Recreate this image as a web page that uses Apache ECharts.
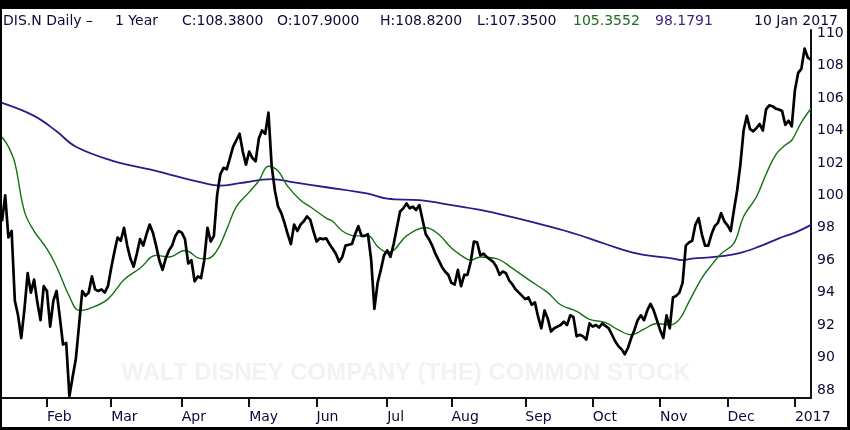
<!DOCTYPE html>
<html>
<head>
<meta charset="utf-8">
<script src="https://cdn.jsdelivr.net/npm/echarts@6/dist/echarts.min.js"></script>
<style>
html,body{margin:0;padding:0;background:#fff;}
#chart{width:850px;height:430px;}
</style>
</head>
<body>
<div id="chart"></div>
<script>
// Daily closes, one per trading day (11 Jan 2016 .. 10 Jan 2017)
const closes = [
  98.4, 100.0, 97.4, 97.8, 93.5, 92.6, 91.2, 93.0, 95.2, 94.0,
  94.8, 93.4, 92.3, 94.4, 94.1, 91.9, 93.5, 94.1, 92.5, 90.8,
  90.9, 87.6, 88.8, 89.9, 92.0, 94.1, 93.8, 94.0, 95.0, 94.2,
  94.1, 94.2, 94.0, 94.4, 95.5, 96.5, 97.4, 97.2, 98.0, 96.9,
  96.1, 95.6, 96.4, 97.3, 96.9, 97.6, 98.2, 97.7, 96.9, 96.0,
  95.4, 96.1, 96.6, 96.9, 97.5, 97.8, 97.7, 97.3, 95.8, 96.0,
  94.7, 95.0, 94.9, 96.0, 98.0, 97.15, 97.5, 100.0, 101.3, 101.7,
  101.6, 102.3, 103.0, 103.4, 103.8, 102.7, 101.9, 102.7, 102.3, 102.1,
  103.5, 104.0, 103.8, 105.1, 101.8, 100.3, 99.3, 98.9, 98.3, 97.6,
  97.0, 98.2, 97.8, 98.2, 98.4, 98.7, 98.5, 97.8, 97.15, 97.35,
  97.3, 97.35, 97.0, 96.7, 96.4, 95.9, 96.2, 96.9, 96.95, 97.0,
  97.6, 98.1, 97.5, 97.5, 97.6, 96.0, 93.0, 94.6, 95.4, 96.3,
  96.6, 96.2, 97.0, 98.0, 99.0, 99.2, 99.5, 99.2, 99.3, 99.1,
  99.4, 98.5, 97.6, 97.3, 96.9, 96.4, 96.0, 95.6, 95.3, 95.1,
  94.6, 94.5, 95.4, 94.4, 95.1, 95.1, 95.9, 97.15, 97.1, 96.3,
  96.4, 96.2, 96.05, 95.9, 95.6, 95.1, 95.3, 95.2, 94.75, 94.5,
  94.2, 94.0, 93.8, 93.6, 93.7, 93.25, 93.4, 92.5, 91.8, 92.9,
  92.4, 91.6, 91.8, 91.9, 92.0, 92.2, 92.0, 92.6, 92.5, 91.3,
  91.4, 91.3, 91.1, 92.1, 91.9, 92.0, 91.85, 92.1, 91.95, 91.8,
  91.4, 91.0, 90.7, 90.5, 90.2, 90.6, 91.2, 91.7, 92.3, 92.6,
  92.3, 92.9, 93.3, 92.9, 92.3, 91.7, 91.2, 92.6, 91.8, 93.7,
  93.8, 94.0, 94.6, 96.9, 97.1, 97.2, 98.2, 98.6, 97.6, 96.9,
  96.9, 97.6, 98.1, 98.3, 98.9, 98.4, 98.15, 97.8, 99.1, 100.3,
  101.9, 104.0, 104.9, 104.1, 103.95, 104.15, 104.4, 104.0, 105.3, 105.55,
  105.5, 105.35, 105.3, 105.2, 104.35, 104.6, 104.25, 106.5, 107.55, 107.8,
  109.05, 108.5, 108.38
];

// 50-day moving average (green), read at these trading-day indices
const ma50Index = [0, 2, 4, 7, 10, 14, 17, 21, 24, 27, 33, 38, 43, 48, 52, 57, 62, 64, 67, 70,
  73, 77, 80, 83, 86, 89, 93, 96, 101, 103, 106, 110, 114, 117, 120, 122, 126, 132, 136, 140,
  143, 146, 149, 154, 159, 164, 170, 174, 179, 183, 188, 192, 196, 200, 204, 208, 211, 214, 218, 221,
  224, 228, 231, 235, 238, 241, 244, 246, 249, 252];
const ma50Values = [103.6, 103.0, 102.0, 99.0, 97.8, 96.7, 95.6, 93.76, 92.9, 93.0, 93.6, 94.8, 95.5, 96.3, 96.2, 96.6, 96.1, 96.1, 96.6, 97.9,
  99.3, 100.2, 100.9, 101.8, 101.5, 100.55, 99.7, 99.3, 98.6, 98.4, 97.8, 97.5, 97.5, 96.85, 96.5, 96.6, 97.5, 98.0, 97.6, 96.75,
  96.3, 96.0, 96.2, 96.1, 95.5, 94.8, 94.0, 93.25, 92.85, 92.35, 92.15, 91.7, 91.4, 91.75, 92.1, 92.0, 92.35, 93.45, 94.9, 95.7,
  96.4, 97.05, 98.7, 99.9, 101.3, 102.5, 103.1, 103.4, 104.5, 105.36];

// 200-day moving average (indigo), read at these trading-day indices
const ma200Index = [0, 10, 17, 23, 35, 46, 60, 68, 74, 84, 91, 101, 114, 120, 130, 140, 149, 159, 170, 179,
  188, 198, 209, 212, 215, 222, 229, 236, 242, 247, 252];
const ma200Values = [105.7, 104.9, 103.95, 103.0, 102.1, 101.6, 100.9, 100.6, 100.75, 101.0, 100.8, 100.5, 100.1, 99.8, 99.7, 99.4, 99.1, 98.65, 98.1, 97.6,
  97.0, 96.4, 96.1, 96.0, 96.1, 96.2, 96.4, 96.85, 97.35, 97.7, 98.18];

// Month ticks: label and trading-day index of first session of the month
const tickLabels = ['Feb', 'Mar', 'Apr', 'May', 'Jun', 'Jul', 'Aug', 'Sep', 'Oct', 'Nov', 'Dec', '2017'];
const tickIndex = [14, 34, 56, 77, 98, 120, 140, 163, 184, 205, 226, 247];

const yTicks = [88, 90, 92, 94, 96, 98, 100, 102, 104, 106, 108, 110];

const headerMain = [
  {text: 'DIS.N Daily \u2013', x: 3},
  {text: '1 Year', x: 115},
  {text: 'C:108.3800', x: 182},
  {text: 'O:107.9000', x: 277},
  {text: 'H:108.8200', x: 380},
  {text: 'L:107.3500', x: 477}
];
const headerMa50 = '105.3552';
const headerMa200 = '98.1791';
const headerDate = '10 Jan 2017';
const watermark = 'WALT DISNEY COMPANY (THE) COMMON STOCK';

const categories = closes.map((_, i) => String(i));
const tickSet = new Set(tickIndex);
const labelOf = {};
tickIndex.forEach((idx, k) => { labelOf[idx] = tickLabels[k]; });

const FONT = '"DejaVu Sans", Verdana, sans-serif';
const NAVY = '#0b0b3b';

const graphics = [];
headerMain.forEach(h => graphics.push({
  type: 'text', x: h.x, y: 21, z: 50,
  style: {text: h.text, fill: NAVY, font: '14px ' + FONT, textVerticalAlign: 'middle'}
}));
graphics.push({type: 'text', x: 573, y: 21, z: 50,
  style: {text: headerMa50, fill: '#1e6b1e', font: '14px ' + FONT, textVerticalAlign: 'middle'}});
graphics.push({type: 'text', x: 655, y: 21, z: 50,
  style: {text: headerMa200, fill: '#3b1f7a', font: '14px ' + FONT, textVerticalAlign: 'middle'}});
graphics.push({type: 'text', x: 838, y: 21, z: 50,
  style: {text: headerDate, fill: NAVY, font: '14px ' + FONT, textAlign: 'right', textVerticalAlign: 'middle'}});
graphics.push({type: 'text', x: 406, y: 373, z: 0, silent: true,
  style: {text: watermark, fill: '#f2f2f2', font: 'bold 24px "Liberation Sans", sans-serif', textAlign: 'center', textVerticalAlign: 'middle'}});
// outer black frame
graphics.push({type: 'rect', z: 100, shape: {x: 0, y: 0, width: 850, height: 9}, style: {fill: '#000'}});
graphics.push({type: 'rect', z: 100, shape: {x: 0, y: 0, width: 2, height: 430}, style: {fill: '#000'}});
graphics.push({type: 'rect', z: 100, shape: {x: 847, y: 0, width: 3, height: 430}, style: {fill: '#000'}});
graphics.push({type: 'rect', z: 100, shape: {x: 0, y: 427, width: 850, height: 3}, style: {fill: '#000'}});

const chart = echarts.init(document.getElementById('chart'), null, {renderer: 'canvas'});
chart.setOption({
  animation: false,
  backgroundColor: '#fff',
  grid: {left: 2, top: 30, width: 809, height: 368, containLabel: false},
  xAxis: {
    type: 'category',
    data: categories,
    boundaryGap: false,
    axisLine: {show: true, lineStyle: {color: '#111', width: 2}},
    axisTick: {show: true, length: 9, lineStyle: {color: '#111', width: 2},
      interval: (i) => tickSet.has(i)},
    axisLabel: {
      interval: (i) => tickSet.has(i),
      formatter: (v, i) => labelOf[i] || '',
      align: 'left', margin: 12, color: NAVY, fontSize: 14, fontFamily: FONT
    },
    splitLine: {show: false}
  },
  yAxis: {
    type: 'value',
    position: 'right',
    min: 87.5, max: 110.2,
    axisLine: {show: true, lineStyle: {color: '#111', width: 2}},
    axisTick: {show: false},
    splitLine: {show: false},
    axisLabel: {customValues: yTicks, margin: 6, color: NAVY, fontSize: 14, fontFamily: FONT,
      showMinLabel: true, showMaxLabel: true}
  },
  graphic: graphics,
  series: [
    {
      name: 'MA200', type: 'line', symbol: 'none', smooth: 0.4, z: 3,
      data: ma200Index.map((idx, k) => [idx, ma200Values[k]]),
      lineStyle: {color: '#2b1a8c', width: 1.8}
    },
    {
      name: 'MA50', type: 'line', symbol: 'none', smooth: 0.4, z: 4,
      data: ma50Index.map((idx, k) => [idx, ma50Values[k]]),
      lineStyle: {color: '#137013', width: 1.4}
    },
    {
      name: 'Close', type: 'line', symbol: 'none', z: 5,
      data: closes,
      lineStyle: {color: '#000', width: 2.7, join: 'round'}
    }
  ]
});
</script>
</body>
</html>
